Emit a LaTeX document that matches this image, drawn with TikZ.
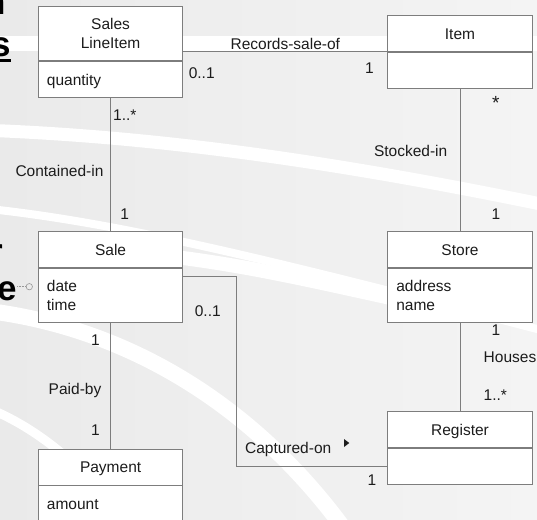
\documentclass[tikz,border=0pt]{standalone}
\usepackage{fontspec}
\setmainfont{Liberation Sans}
\definecolor{bgl}{RGB}{234,234,234}
\definecolor{bgr}{RGB}{244,244,244}
\definecolor{ln}{RGB}{125,125,125}
\definecolor{tx}{RGB}{28,28,28}
\begin{document}
\begin{tikzpicture}[x=1pt,y=-1pt,
  font=\fontsize{15.5}{19}\selectfont,
  cls/.style={draw=ln, fill=white, line width=0.9pt, minimum width=144.4pt,
    inner sep=0pt, text=tx},
  one/.style={text height=11.3pt, text depth=0pt},
  ttl/.style={cls, align=center},
  attr/.style={cls, anchor=north, align=left, text width=127.4pt, inner xsep=8.5pt},
  conn/.style={draw=ln, line width=0.9pt},
  lbl/.style={inner sep=0pt, text=tx},
  big/.style={inner sep=0pt, font=\fontsize{35}{35}\selectfont\bfseries, text=black},
  swoosh/.style={white, line cap=round}
]
\useasboundingbox (0,0) rectangle (537,519);
\clip (0,0) rectangle (537,519);
% background
\shade[left color=bgl, right color=bgr] (0,0) rectangle (537,519);
\fill[white] (0,36) rectangle (537,51);
\draw[swoosh, line width=13pt] (-20,130) .. controls (150,136) and (330,160) .. (560,208);
\draw[swoosh, line width=8pt] (-20,208) .. controls (120,222) and (280,262) .. (560,335);
\draw[swoosh, line width=14pt] (183,258) .. controls (260,268) and (330,285) .. (400,300);
\draw[swoosh, line width=16pt] (-20,310) .. controls (120,325) and (250,400) .. (345,530);
\draw[swoosh, line width=9pt] (-20,405) .. controls (20,420) and (60,445) .. (110,500);

% left-edge slide text fragments
\node[big, anchor=base east] (fragn) at (5.7,15) {n};
\node[big, anchor=base east] (frags) at (11,56.7) {s};
\fill[black] (0,59.3) rectangle (11,61.7);
\node[big, anchor=base east] (fragr) at (3.8,263) {r};
\node[big, anchor=base east] (frage) at (17,300) {e};
\node[draw=ln!80, line width=0.6pt, circle, minimum size=6.4pt, inner sep=0pt] (dot) at (29.3,286.7) {};
\draw[ln!80, densely dotted, line width=0.6pt] (frage.east |- dot) -- (dot.west);

% classes
\node[ttl, minimum height=54.7pt] (sliT) at (110.6,33.35) {Sales\\LineItem};
\node[attr, one, minimum height=36pt] (sliA) at (sliT.south) {quantity};

\node[ttl, one, minimum height=35.6pt] (itemT) at (460,33.5) {Item};
\node[attr, one, minimum height=36pt] (itemA) at (itemT.south) {};

\node[ttl, one, minimum height=35.6pt] (saleT) at (110.6,249.5) {Sale};
\node[attr, minimum height=54.4pt] (saleA) at (saleT.south) {date\\time};

\node[ttl, one, minimum height=35.6pt] (storeT) at (460,249.5) {Store};
\node[attr, minimum height=54.4pt] (storeA) at (storeT.south) {address\\name};

\node[ttl, one, minimum height=35.6pt] (regT) at (460,429.5) {Register};
\node[attr, one, minimum height=36pt] (regA) at (regT.south) {};

\node[ttl, one, minimum height=36pt] (payT) at (110.6,467) {Payment};
\node[attr, one, minimum height=36pt] (payA) at (payT.south) {amount};

% connectors
\draw[conn] (sliT.east |- itemT.south west) -- (itemT.south west);
\draw[conn] (sliA.south) -- (saleT.north);
\draw[conn] (itemA.south) -- (storeT.north);
\draw[conn] (saleA.south) -- (payT.north);
\draw[conn] (storeA.south) -- (regT.north);
\coordinate (cap1) at (236.6,276.3);
\coordinate (cap2) at (236.6,466);
\draw[conn] (saleA.east |- cap1) -- (cap1) -- (cap2) -- (cap2 -| regA.west);

% labels
\node[lbl, anchor=base] (lrec) at (285.3,49) {Records-sale-of};
\node[lbl, anchor=base west] (m1) at (188.6,78.7) {0..1};
\node[lbl, anchor=base] (m2) at (369.5,73.3) {1};
\node[lbl, anchor=base, font=\fontsize{19}{19}\selectfont] (m3) at (495.9,109.5) {*};
\node[lbl, anchor=base west] (m4) at (113,120.7) {1..*};
\node[lbl, anchor=base east] (lcont) at (103.6,176) {Contained-in};
\node[lbl, anchor=base] (m5) at (124.6,219) {1};
\node[lbl, anchor=base east] (lstock) at (447.5,156.7) {Stocked-in};
\node[lbl, anchor=base] (m6) at (495.9,219) {1};
\node[lbl, anchor=base] (m7) at (207.8,316) {0..1};
\node[lbl, anchor=base] (m8) at (95.5,345) {1};
\node[lbl, anchor=base east] (lpaid) at (101.5,394.3) {Paid-by};
\node[lbl, anchor=base] (m9) at (95.5,435) {1};
\node[lbl, anchor=base] (m10) at (495.9,335) {1};
\node[lbl, anchor=base west] (lhouses) at (483.5,362.7) {Houses};
\node[lbl, anchor=base west] (m11) at (483.5,400) {1..*};
\node[lbl, anchor=base west] (lcapt) at (244.9,453) {Captured-on};
\fill[tx] (344,439) -- (349.3,443) -- (344,447) -- cycle;
\node[lbl, anchor=base] (m12) at (372,485) {1};
\end{tikzpicture}
\end{document}
